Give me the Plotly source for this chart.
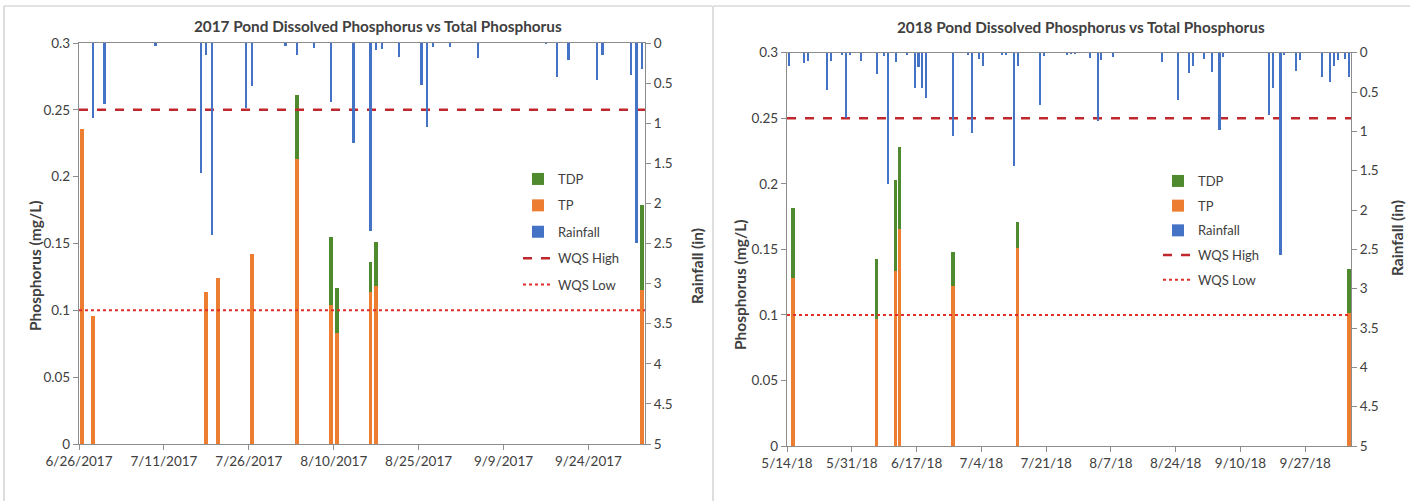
import plotly.graph_objects as go

# ---------------- 2017 data ----------------
p17_dates = ["2017-06-26", "2017-06-28", "2017-07-18", "2017-07-20", "2017-07-26",
             "2017-08-03", "2017-08-09", "2017-08-10", "2017-08-16", "2017-08-17",
             "2017-10-03"]
tp17 = [0.236, 0.096, 0.114, 0.124, 0.142, 0.213, 0.104, 0.083, 0.114, 0.118, 0.115]
tdp17 = [None, None, None, None, None, 0.261, 0.155, 0.117, 0.136, 0.151, 0.179]

rain17_dates = ["2017-06-28", "2017-06-30", "2017-07-09", "2017-07-17", "2017-07-18",
                "2017-07-19", "2017-07-25", "2017-07-26", "2017-08-01", "2017-08-03",
                "2017-08-06", "2017-08-09", "2017-08-13", "2017-08-16", "2017-08-17",
                "2017-08-18", "2017-08-21", "2017-08-25", "2017-08-26", "2017-08-27",
                "2017-08-30", "2017-09-04", "2017-09-16", "2017-09-18", "2017-09-20",
                "2017-09-25", "2017-09-26", "2017-10-01", "2017-10-02", "2017-10-03"]
rain17 = [0.93, 0.76, 0.04, 1.62, 0.15, 2.39, 0.81, 0.54, 0.04, 0.15,
          0.06, 0.74, 1.25, 2.34, 0.09, 0.07, 0.17, 0.52, 1.05, 0.05,
          0.05, 0.19, 0.01, 0.43, 0.21, 0.46, 0.15, 0.40, 2.49, 0.32]

# ---------------- 2018 data ----------------
p18_dates = ["2018-05-15", "2018-06-06", "2018-06-11", "2018-06-12", "2018-06-26",
             "2018-07-13", "2018-10-08"]
tp18 = [0.128, 0.097, 0.134, 0.166, 0.122, 0.151, 0.102]
tdp18 = [0.182, 0.143, 0.203, 0.228, 0.148, 0.171, 0.135]

rain18_dates = ["2018-05-14", "2018-05-18", "2018-05-19", "2018-05-24", "2018-05-25",
                "2018-05-28", "2018-05-29", "2018-05-30", "2018-06-02", "2018-06-06",
                "2018-06-08", "2018-06-09", "2018-06-11", "2018-06-14", "2018-06-16",
                "2018-06-17", "2018-06-18", "2018-06-19", "2018-06-26", "2018-06-30",
                "2018-07-01", "2018-07-03", "2018-07-04", "2018-07-09", "2018-07-10",
                "2018-07-12", "2018-07-13", "2018-07-19", "2018-07-20", "2018-07-26",
                "2018-07-27", "2018-07-28", "2018-08-01", "2018-08-03", "2018-08-04",
                "2018-08-07", "2018-08-20", "2018-08-24", "2018-08-27", "2018-08-28",
                "2018-08-31", "2018-09-02", "2018-09-04", "2018-09-05", "2018-09-17",
                "2018-09-18", "2018-09-20", "2018-09-21", "2018-09-24", "2018-09-25",
                "2018-10-01", "2018-10-03", "2018-10-04", "2018-10-05", "2018-10-07",
                "2018-10-08"]
rain18 = [0.17, 0.13, 0.10, 0.47, 0.10, 0.03, 0.83, 0.02, 0.10, 0.27,
          0.04, 1.66, 0.11, 0.03, 0.44, 0.18, 0.44, 0.57, 1.05, 0.03,
          1.02, 0.08, 0.16, 0.03, 0.02, 1.44, 0.16, 0.66, 0.04, 0.02,
          0.01, 0.01, 0.06, 0.86, 0.09, 0.05, 0.11, 0.60, 0.25, 0.17,
          0.08, 0.24, 0.98, 0.05, 0.79, 0.45, 2.57, 0.02, 0.23, 0.09,
          0.30, 0.37, 0.16, 0.09, 0.07, 0.30]

wqs_high = 0.25
wqs_low = 0.10

range17 = ["2017-06-26", "2017-10-04"]
range18 = ["2018-05-14", "2018-10-09"]

# ---------------- styling ----------------
W, H = 1416, 501
FONT = "Lato"
TXT = "#404040"
AX = "#8C8C8C"
GREEN = "#4F8A2E"
ORANGE = "#ED7D31"
BLUE = "#4472C4"
HIGH = "#C0282D"
LOW = "#E0302A"
DAY = 86400000


def px_x(p):
    return p / W


def px_y(p):
    return 1 - p / H


fig = go.Figure()


def add_chart(xa, ya, ya2, legend, pdates, tp, tdp, rdates, rain, xr, pw, rw):
    fig.add_trace(go.Bar(x=pdates, y=tdp, name="TDP", marker_color=GREEN,
                         xaxis=xa, yaxis=ya, width=pw * DAY, xperiod=DAY,
                         xperiodalignment="middle", legend=legend,
                         legendgroup=legend + "a", marker_line_width=0))
    fig.add_trace(go.Bar(x=pdates, y=tp, name="TP", marker_color=ORANGE,
                         xaxis=xa, yaxis=ya, width=pw * DAY, xperiod=DAY,
                         xperiodalignment="middle", legend=legend,
                         legendgroup=legend + "b", marker_line_width=0))
    fig.add_trace(go.Bar(x=rdates, y=rain, name="Rainfall", marker_color=BLUE,
                         xaxis=xa, yaxis=ya2, width=rw * DAY, xperiod=DAY,
                         xperiodalignment="middle", legend=legend,
                         legendgroup=legend + "c", marker_line_width=0))
    fig.add_trace(go.Scatter(x=xr, y=[wqs_high, wqs_high], mode="lines",
                             name="WQS High", xaxis=xa, yaxis=ya,
                             line=dict(color=HIGH, width=2.5, dash="dash"),
                             legend=legend, legendgroup=legend + "d"))
    fig.add_trace(go.Scatter(x=xr, y=[wqs_low, wqs_low], mode="lines",
                             name="WQS Low", xaxis=xa, yaxis=ya,
                             line=dict(color=LOW, width=2, dash="dot"),
                             legend=legend, legendgroup=legend + "e"))


add_chart("x", "y", "y2", "legend", p17_dates, tp17, tdp17, rain17_dates, rain17,
          range17, 0.7, 0.4)
add_chart("x2", "y3", "y4", "legend2", p18_dates, tp18, tdp18, rain18_dates, rain18,
          range18, 0.95, 0.55)

tickfont = dict(family=FONT, size=13.5, color=TXT)


def xaxis(dom, rng, tick0, dt, fmt, anchor):
    return dict(domain=dom, range=rng, type="date", tick0=tick0, dtick=dt * DAY,
                tickformat=fmt, ticks="outside", ticklen=5, tickcolor=AX,
                showline=True, linecolor=AX, linewidth=1.3, mirror=True,
                showgrid=False, zeroline=False, tickfont=tickfont,
                automargin=False, anchor=anchor)


def yleft(dom, anchor):
    return dict(domain=dom, range=[0, 0.3], dtick=0.05, anchor=anchor,
                ticks="outside", ticklen=5, tickcolor=AX, showline=True,
                linecolor=AX, linewidth=1.3, showgrid=False, zeroline=False,
                tickfont=tickfont, automargin=False)


def yright(overlay, anchor):
    return dict(overlaying=overlay, anchor=anchor, side="right", range=[5, 0],
                dtick=0.5, ticks="outside", ticklen=5, tickcolor=AX,
                showline=True, linecolor=AX, linewidth=1.3, showgrid=False,
                zeroline=False, tickfont=tickfont, automargin=False)


dom_x1 = [px_x(79), px_x(645)]
dom_x2 = [px_x(787), px_x(1351)]
dom_y1 = [px_y(444), px_y(43)]
dom_y2 = [px_y(446), px_y(52.7)]

legend_common = dict(font=dict(family=FONT, size=13, color=TXT),
                     bgcolor="rgba(0,0,0,0)", traceorder="grouped",
                     itemwidth=30, xanchor="left", yanchor="top")

AT = dict(family=FONT, size=15.5, color=TXT)


def ann(text, x, y, font, angle=0):
    return dict(text=text, x=px_x(x), y=px_y(y), xref="paper", yref="paper",
                showarrow=False, textangle=angle, xanchor="center",
                yanchor="middle", font=font)


TF = dict(family=FONT, size=15.3, color=TXT)
annotations = [
    ann("<b>2017 Pond Dissolved Phosphorus vs Total Phosphorus</b>", 378, 26, TF),
    ann("<b>2018 Pond Dissolved Phosphorus vs Total Phosphorus</b>", 1081, 27, TF),
    ann("<b>Phosphorus (mg/L)</b>", 35, 266, AT, -90),
    ann("<b>Rainfall (in)</b>", 697, 266, AT, -90),
    ann("<b>Phosphorus (mg/L)</b>", 740, 285, AT, -90),
    ann("<b>Rainfall (in)</b>", 1397, 238, AT, -90),
]

border = dict(color="#C8C8C8", width=1.2)
shapes = [
    dict(type="line", xref="paper", yref="paper", x0=px_x(4), x1=px_x(712),
         y0=px_y(6), y1=px_y(6), line=border),
    dict(type="line", xref="paper", yref="paper", x0=px_x(4), x1=px_x(4),
         y0=px_y(6), y1=0, line=border),
    dict(type="line", xref="paper", yref="paper", x0=px_x(713), x1=px_x(713),
         y0=px_y(6), y1=0, line=border),
    dict(type="line", xref="paper", yref="paper", x0=px_x(713), x1=px_x(1410),
         y0=px_y(6), y1=px_y(6), line=border),
]

fig.update_layout(
    template="none",
    width=W, height=H, margin=dict(l=0, r=0, t=0, b=0, pad=0, autoexpand=False),
    paper_bgcolor="white", plot_bgcolor="white",
    barmode="overlay", bargap=0,
    font=dict(family=FONT, color=TXT),
    xaxis=xaxis(dom_x1, range17, "2017-06-26", 15, "%-m/%-d/%Y", "y"),
    xaxis2=xaxis(dom_x2, range18, "2018-05-14", 17, "%-m/%-d/%y", "y3"),
    yaxis=yleft(dom_y1, "x"),
    yaxis2=yright("y", "x"),
    yaxis3=yleft(dom_y2, "x2"),
    yaxis4=yright("y3", "x2"),
    legend=dict(x=px_x(518), y=px_y(164), tracegroupgap=6.5, **legend_common),
    legend2=dict(x=px_x(1158), y=px_y(166), tracegroupgap=4.8, **legend_common),
    annotations=annotations,
    shapes=shapes,
    showlegend=True,
)

fig.write_html("out.html")
